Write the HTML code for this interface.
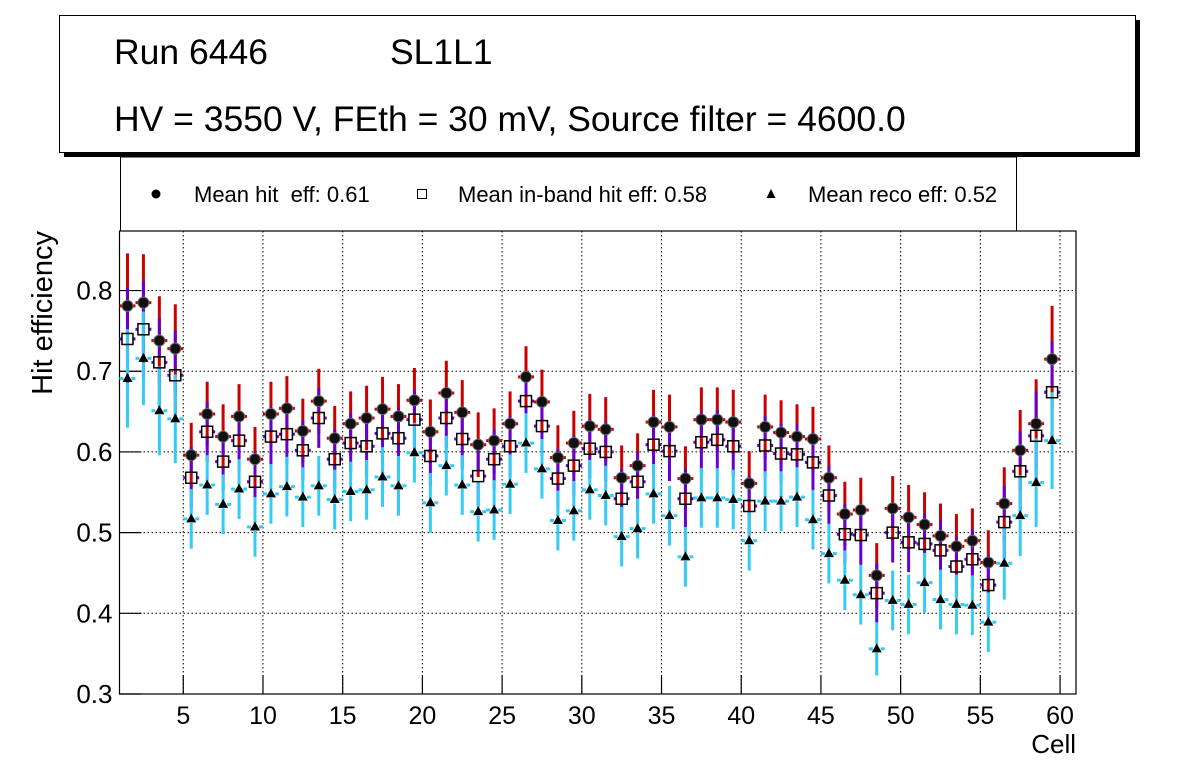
<!DOCTYPE html>
<html><head><meta charset="utf-8">
<style>
html,body{margin:0;padding:0;background:#fff;}
svg{display:block;font-family:"Liberation Sans",sans-serif;}
</style></head>
<body>
<svg id="c" width="1196" height="772" viewBox="0 0 1196 772" xmlns="http://www.w3.org/2000/svg">
  <g>
    <rect x="64" y="20" width="1076" height="137" fill="#000"/>
    <rect x="59.5" y="15.5" width="1076" height="137" fill="#fff" stroke="#000" stroke-width="1"/>
    <text x="114" y="64" font-size="35.5">Run 6446</text>
    <text x="390" y="64" font-size="35.5">SL1L1</text>
    <text x="114" y="131" font-size="35.5">HV = 3550 V, FEth = 30 mV, Source filter = 4600.0</text>
  </g>
  <g>
    <rect x="120.5" y="157" width="896" height="74" fill="#fff" stroke="#000" stroke-width="1"/>
    <g>
      <circle cx="156" cy="194" r="4.5" fill="#000"/>
      <text x="194" y="202" font-size="22" xml:space="preserve">Mean hit  eff: 0.61</text>
    </g>
    <g>
      <rect x="417.5" y="189.5" width="9" height="9" fill="none" stroke="#000" stroke-width="1"/>
      <text x="458" y="202" font-size="22">Mean in-band hit eff: 0.58</text>
    </g>
    <g>
      <path d="M771 189 L775.5 198 L766.5 198 Z" fill="#000"/>
      <text x="808" y="202" font-size="22">Mean reco eff: 0.52</text>
    </g>
  </g>
  <g id="plot"></g>
  <text font-size="29" text-anchor="end" transform="translate(52,231) rotate(-90)">Hit efficiency</text>
  <text x="1076" y="753" font-size="26" text-anchor="end">Cell</text>
</svg>
<script>
const cells = [];
for (let i = 1; i <= 59; i++) cells.push(i);
const hitEff = [0.781,0.785,0.738,0.728,0.596,0.647,0.619,0.644,0.591,0.647,0.654,0.626,0.663,0.617,0.635,0.642,0.653,0.644,0.664,0.625,0.673,0.649,0.609,0.614,0.635,0.693,0.662,0.593,0.611,0.632,0.628,0.568,0.583,0.637,0.631,0.567,0.640,0.640,0.637,0.561,0.631,0.624,0.619,0.616,0.568,0.523,0.528,0.447,0.530,0.519,0.510,0.496,0.483,0.490,0.463,0.536,0.602,0.635,0.715];
const inbandEff = [0.740,0.752,0.711,0.695,0.568,0.625,0.588,0.614,0.563,0.619,0.622,0.602,0.642,0.591,0.611,0.607,0.623,0.617,0.640,0.595,0.642,0.616,0.570,0.591,0.607,0.663,0.632,0.567,0.583,0.604,0.600,0.542,0.563,0.609,0.601,0.542,0.612,0.615,0.607,0.533,0.608,0.598,0.597,0.587,0.546,0.498,0.497,0.425,0.500,0.488,0.486,0.478,0.458,0.467,0.435,0.513,0.576,0.620,0.674];
const recoEff = [0.691,0.716,0.651,0.641,0.517,0.559,0.535,0.554,0.507,0.548,0.557,0.544,0.558,0.541,0.551,0.553,0.569,0.558,0.599,0.537,0.583,0.559,0.526,0.528,0.560,0.611,0.579,0.515,0.527,0.553,0.546,0.495,0.505,0.548,0.521,0.470,0.543,0.543,0.541,0.490,0.539,0.539,0.544,0.516,0.474,0.441,0.423,0.356,0.416,0.411,0.438,0.417,0.411,0.410,0.389,0.462,0.521,0.562,0.614];
const errHit = [0.065,0.06,0.055,0.055,0.04,0.04,0.04,0.04,0.04,0.04,0.04,0.04,0.04,0.04,0.04,0.04,0.04,0.04,0.04,0.04,0.04,0.04,0.04,0.04,0.04,0.038,0.04,0.04,0.04,0.04,0.04,0.04,0.04,0.04,0.04,0.04,0.04,0.04,0.04,0.04,0.04,0.04,0.04,0.04,0.04,0.04,0.04,0.04,0.04,0.04,0.04,0.04,0.04,0.04,0.04,0.045,0.05,0.055,0.066];
const errInband = [0.063,0.06,0.055,0.055,0.038,0.037,0.037,0.037,0.037,0.037,0.037,0.037,0.037,0.037,0.037,0.037,0.037,0.037,0.037,0.037,0.037,0.037,0.037,0.037,0.037,0.037,0.037,0.037,0.037,0.037,0.037,0.037,0.037,0.037,0.037,0.037,0.037,0.037,0.037,0.037,0.037,0.037,0.037,0.037,0.037,0.037,0.037,0.037,0.037,0.037,0.037,0.037,0.037,0.037,0.037,0.045,0.05,0.055,0.063];
const errReco = [0.061,0.058,0.055,0.055,0.037,0.037,0.037,0.037,0.037,0.037,0.037,0.037,0.037,0.037,0.037,0.037,0.037,0.037,0.037,0.037,0.037,0.037,0.037,0.037,0.037,0.037,0.037,0.037,0.037,0.037,0.037,0.037,0.037,0.037,0.037,0.037,0.037,0.037,0.037,0.037,0.037,0.037,0.037,0.037,0.037,0.037,0.037,0.033,0.037,0.037,0.037,0.037,0.037,0.037,0.037,0.045,0.05,0.055,0.06];
const xTicks = [5,10,15,20,25,30,35,40,45,50,55,60];
const yTicks = [0.3,0.4,0.5,0.6,0.7,0.8];
const yTickLabels = ["0.3","0.4","0.5","0.6","0.7","0.8"];

const X0=119.5, X1=1076, Y0=694, Y1=231, XMIN=1, XMAX=61, YMIN=0.3, YMAX=0.8738;
function sx(v){return X0+(v-XMIN)/(XMAX-XMIN)*(X1-X0);}
function sy(v){return Y0-(v-YMIN)/(YMAX-YMIN)*(Y0-Y1);}
const NS="http://www.w3.org/2000/svg";
const plot=document.getElementById('plot');
function mk(tag,attrs,parent){const e=document.createElementNS(NS,tag);for(const k in attrs)e.setAttribute(k,attrs[k]);(parent||plot).appendChild(e);return e;}

const frame=mk('rect',{x:X0,y:Y1,width:X1-X0,height:Y0-Y1,fill:'#fff',stroke:'#000','stroke-width':1.2});


xTicks.forEach(t=>{
  const x=sx(t);
  const g=mk('line',{x1:x,x2:x,y1:Y1,y2:Y0,stroke:'#000','stroke-width':1,'stroke-dasharray':'1.5,2.5'});
  
  
  const tk=mk('line',{x1:x,x2:x,y1:Y0,y2:Y0-19,stroke:'#000','stroke-width':1.2});
  
  
  const lb=mk('text',{x:x,y:Y0+30,'font-size':25,'text-anchor':'middle'});
  lb.textContent=String(t);
  
  
});
yTicks.forEach((t,i)=>{
  const y=sy(t);
  if(i>0){
    const g=mk('line',{x1:X0,x2:X1,y1:y,y2:y,stroke:'#000','stroke-width':1,'stroke-dasharray':'1.5,2.5'});
    
    
  }
  const tk=mk('line',{x1:X0,x2:X0+22,y1:y,y2:y,stroke:'#000','stroke-width':1.2});
  
  
  const lb=mk('text',{x:X0-7,y:y+9,'font-size':26,'text-anchor':'end'});
  lb.textContent=yTickLabels[i];
  
  
});

function series(vals,errs,color,gap,name){
  const g=mk('g',{});
  
  
  vals.forEach((v,i)=>{
    const c=cells[i]+0.5, x=sx(c), y=sy(v);
    const yt=sy(v+errs[i]), yb=sy(v-errs[i]);
    const xl=sx(c-0.5), xr=sx(c+0.5);
    const segs=[[x,yt,x,y-gap],[x,y+gap,x,yb],[xl,y,x-gap,y],[x+gap,y,xr,y]];
    segs.forEach(s=>{
      if((s[0]===s[2]&&s[3]>s[1])||(s[1]===s[3]&&s[2]>s[0])){
        const l=mk('line',{x1:s[0],y1:s[1],x2:s[2],y2:s[3],stroke:color,'stroke-width':3},g);
        
        
      }
    });
  });
}
series(hitEff,errHit,'#cc0000',2,'hit');
series(inbandEff,errInband,'#6600cc',5.5,'inband');
series(recoEff,errReco,'#33ccf5',4,'reco');

hitEff.forEach((v,i)=>{
  const m=mk('circle',{cx:sx(cells[i]+0.5),cy:sy(v),r:5.5,fill:'#111',stroke:'#666','stroke-width':1});
  
  
});
inbandEff.forEach((v,i)=>{
  const x=sx(cells[i]+0.5), y=sy(v);
  const m=mk('rect',{x:x-5.5,y:y-5.5,width:11,height:11,fill:'none',stroke:'#000','stroke-width':1.5});
  
  
});
recoEff.forEach((v,i)=>{
  const x=sx(cells[i]+0.5), y=sy(v);
  const m=mk('path',{d:`M${x} ${y-5.5} L${x+5} ${y+3.5} L${x-5} ${y+3.5} Z`,fill:'#000'});
  
  
});
</script>
</body></html>
